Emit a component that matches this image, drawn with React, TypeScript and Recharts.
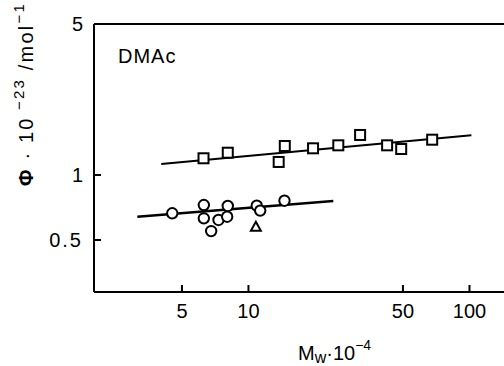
import React from 'react';
import {
  ScatterChart,
  Scatter,
  XAxis,
  YAxis,
  ReferenceLine,
  Label,
} from 'recharts';

// Mw·10^-4 and Φ·10^-23
const squareMw = [6.26, 8.06, 13.7, 14.6, 19.6, 25.5, 32.0, 42.4, 49.1, 67.8];
const squarePhi = [1.195, 1.268, 1.149, 1.362, 1.329, 1.372, 1.532, 1.372, 1.319, 1.457];
const circleMw = [4.52, 6.28, 6.28, 6.78, 7.32, 8.06, 8.01, 10.9, 11.3, 14.55];
const circlePhi = [0.665, 0.726, 0.63, 0.55, 0.619, 0.719, 0.641, 0.721, 0.684, 0.76];
const triangleMw = [10.8];
const trianglePhi = [0.576];
const squareFitMw = [4.03, 102];
const squareFitPhi = [1.124, 1.527];
const circleFitMw = [3.14, 24.2];
const circleFitPhi = [0.641, 0.758];

const xTicks = [5, 10, 50, 100];
const yTicks = [0.5, 1, 5];

const FONT = '"Liberation Sans", Arial, sans-serif';

const zip = (xs: number[], ys: number[]) => xs.map((x, i) => ({ x, y: ys[i] }));

function CircleShape({ cx, cy }: { cx?: number; cy?: number }) {
  return <circle cx={cx} cy={cy} r={5.2} fill="#fff" stroke="#000" strokeWidth={2} />;
}

function SquareShape({ cx, cy }: { cx?: number; cy?: number }) {
  return (
    <rect
      x={(cx ?? 0) - 5}
      y={(cy ?? 0) - 5}
      width={10}
      height={10}
      fill="#fff"
      stroke="#000"
      strokeWidth={2}
    />
  );
}

function TriangleShape({ cx, cy }: { cx?: number; cy?: number }) {
  const x = cx ?? 0;
  const y = cy ?? 0;
  return (
    <path
      d={`M${x},${y - 5} L${x + 5},${y + 4} L${x - 5},${y + 4} Z`}
      fill="#fff"
      stroke="#000"
      strokeWidth={2}
    />
  );
}

const NoDot = () => <g />;

function YTick({ x, y, payload }: any) {
  const label = String(payload.value);
  return (
    <g>
      <line x1={x} x2={x + 7} y1={y} y2={y} stroke="#000" strokeWidth={2} />
      <text
        x={x - 11}
        y={y}
        dy={7}
        textAnchor="end"
        fontFamily={FONT}
        fontSize={20}
        letterSpacing={label.length > 1 ? 2 : 0}
        fill="#000"
      >
        {label}
      </text>
    </g>
  );
}

function XTick({ x, y, payload }: any) {
  return (
    <g>
      <line x1={x} x2={x} y1={y} y2={y - 7} stroke="#000" strokeWidth={2} />
      <text x={x} y={y} dy={26} textAnchor="middle" fontFamily={FONT} fontSize={20} fill="#000">
        {payload.value}
      </text>
    </g>
  );
}

function YTitle() {
  return (
    <g>
      <text
        x={33}
        y={186}
        transform="rotate(-90, 33, 186)"
        fontFamily={FONT}
        fontSize={20}
        fill="#000"
        letterSpacing={2.2}
      >
        <tspan fontWeight="bold">Φ</tspan>
        <tspan> · 10</tspan>
        <tspan dy={-9} fontSize={15}> −23</tspan>
        <tspan dy={9}> /mol</tspan>
        <tspan dy={-9} fontSize={15}>−1</tspan>
      </text>
      <text x={118} y={63} fontFamily={FONT} fontSize={20} letterSpacing={1} fill="#000">
        DMAc
      </text>
    </g>
  );
}

function XTitle() {
  return (
    <text x={298} y={360} fontFamily={FONT} fontSize={20} fill="#000">
      <tspan>M</tspan>
      <tspan dy={3} fontSize={16}>w</tspan>
      <tspan dy={-3}>·10</tspan>
      <tspan dy={-10} fontSize={14}>−4</tspan>
    </text>
  );
}

export default function App() {
  return (
    <div
      style={{
        position: 'fixed',
        left: 0,
        top: 0,
        width: 504,
        height: 366,
        overflow: 'hidden',
        background: '#fff',
      }}
    >
      <ScatterChart width={536} height={366} margin={{ top: 24, right: 0, bottom: 0, left: 0 }}>
        <XAxis
          type="number"
          dataKey="x"
          scale="log"
          domain={[2, 200]}
          allowDataOverflow
          ticks={xTicks}
          tick={<XTick />}
          tickLine={false}
          tickSize={0}
          tickMargin={0}
          height={74}
          axisLine={{ stroke: '#000', strokeWidth: 2 }}
        >
          <Label content={<XTitle />} />
        </XAxis>
        <YAxis
          type="number"
          dataKey="y"
          scale="log"
          domain={[0.2873, 5]}
          allowDataOverflow
          ticks={yTicks}
          tick={<YTick />}
          tickLine={false}
          tickSize={0}
          tickMargin={0}
          width={94}
          axisLine={{ stroke: '#000', strokeWidth: 2 }}
        >
          <Label content={<YTitle />} />
        </YAxis>
        <ReferenceLine y={5} stroke="#000" strokeWidth={2} />
        <Scatter
          data={zip(squareFitMw, squareFitPhi)}
          line={{ stroke: '#000', strokeWidth: 2 }}
          shape={NoDot}
          isAnimationActive={false}
        />
        <Scatter
          data={zip(circleFitMw, circleFitPhi)}
          line={{ stroke: '#000', strokeWidth: 2.5 }}
          shape={NoDot}
          isAnimationActive={false}
        />
        <Scatter data={zip(squareMw, squarePhi)} shape={<SquareShape />} isAnimationActive={false} />
        <Scatter data={zip(circleMw, circlePhi)} shape={<CircleShape />} isAnimationActive={false} />
        <Scatter data={zip(triangleMw, trianglePhi)} shape={<TriangleShape />} isAnimationActive={false} />
      </ScatterChart>
    </div>
  );
}
